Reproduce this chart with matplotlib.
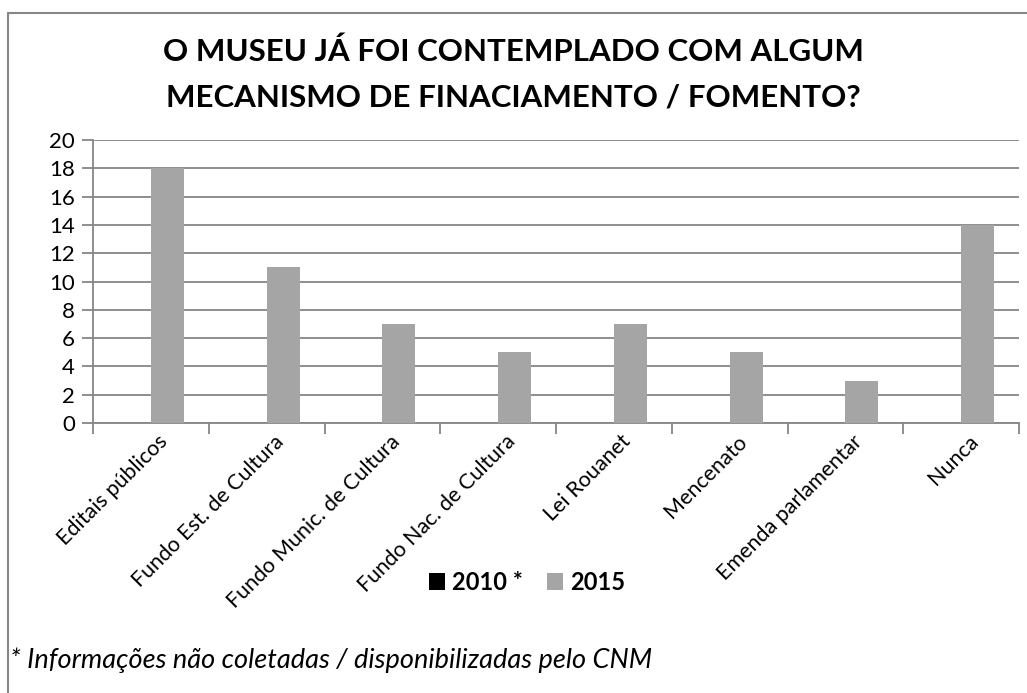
import numpy as np
import matplotlib
matplotlib.use("Agg")
from matplotlib import pyplot as plt
from matplotlib.patches import Rectangle

categories = ["Editais públicos", "Fundo Est. de Cultura", "Fundo Munic. de Cultura",
              "Fundo Nac. de Cultura", "Lei Rouanet", "Mencenato",
              "Emenda parlamentar", "Nunca"]
values_2010 = [0, 0, 0, 0, 0, 0, 0, 0]
values_2015 = [18, 11, 7, 5, 7, 5, 3, 14]
series_names = ["2010 *", "2015"]
yticks = [0, 2, 4, 6, 8, 10, 12, 14, 16, 18, 20]

plt.rcParams['font.family'] = ['Lato', 'DejaVu Sans']
grid_col = '#868686'

fig = plt.figure(figsize=(10.27, 6.93), dpi=100)
ax = fig.add_axes([93/1027, 1-423/693, (1019-93)/1027, (423-140)/693])

x = np.arange(len(categories))
w = 1/3.5
ax.bar(x - w/2, values_2010, w, color='black', label=series_names[0], zorder=3)
ax.bar(x + w/2, values_2015, w, color='#A5A5A5', label=series_names[1], zorder=3)

ax.set_xlim(-0.5, len(categories) - 0.5)
ax.set_ylim(0, 20)
ax.set_yticks(yticks)
ax.yaxis.grid(True, color=grid_col, linewidth=1.3, zorder=0)
ax.tick_params(axis='y', labelsize=16, length=8, width=1.3, color=grid_col, pad=5)

# category boundaries get the tick marks, labels sit in the middle
ax.set_xticks(np.arange(len(categories) + 1) - 0.5)
ax.set_xticklabels([])
ax.set_xticks(x + 0.06, minor=True)
ax.set_xticklabels(categories, minor=True, rotation=45, ha='right',
                   rotation_mode='anchor', fontsize=15.5)
ax.tick_params(axis='x', which='major', length=8, width=1.3, color=grid_col)
ax.tick_params(axis='x', which='minor', length=0, pad=6)

for s in ['top', 'right']:
    ax.spines[s].set_visible(False)
for s in ['left', 'bottom']:
    ax.spines[s].set_color(grid_col)
    ax.spines[s].set_linewidth(1.3)

fig.text(513/1027, 1-52/693, "O MUSEU JÁ FOI CONTEMPLADO COM ALGUM",
         ha='center', va='center', fontsize=22.5, fontweight='bold')
fig.text(513/1027, 1-97/693, "MECANISMO DE FINACIAMENTO / FOMENTO?",
         ha='center', va='center', fontsize=22.5, fontweight='bold')

leg = fig.legend(loc='center', bbox_to_anchor=(527/1027, 1-582/693), ncol=2,
                 frameon=False, prop={'size': 17, 'weight': 'bold'},
                 handlelength=0.7, handleheight=0.7, handletextpad=0.3,
                 columnspacing=1.0)

fig.text(10/1027, 1-660/693, "* Informações não coletadas / disponibilizadas pelo CNM",
         ha='left', va='center', fontsize=19.5, style='italic')

fig.patches.append(Rectangle((8/1027, -0.1), 1.2, 1.1 - 13/693,
                             transform=fig.transFigure, fill=False,
                             edgecolor=grid_col, linewidth=1.5))

fig.savefig("out.png", dpi=100)
